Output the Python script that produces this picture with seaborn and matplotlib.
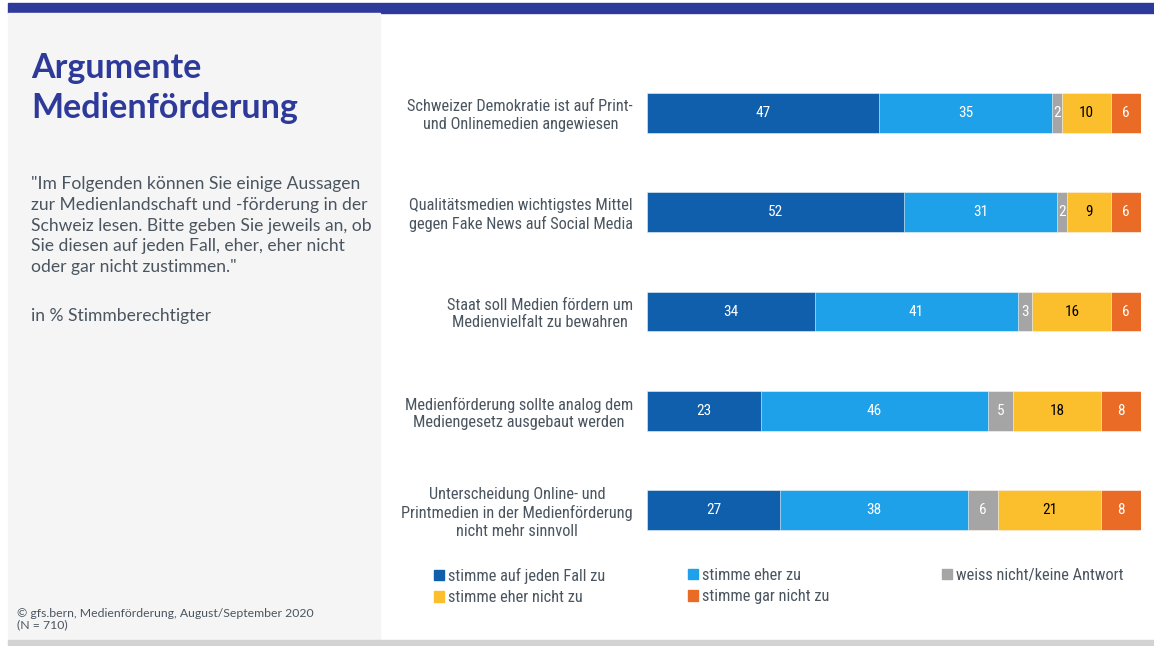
import matplotlib.pyplot as plt
import matplotlib.patches as mpatches
import numpy as np
import pandas as pd
import seaborn as sns

# %% data
statements = ['Schweizer Demokratie ist auf Print-\nund Onlinemedien angewiesen',
              'Qualitätsmedien wichtigstes Mittel\ngegen Fake News auf Social Media',
              'Staat soll Medien fördern um\nMedienvielfalt zu bewahren',
              'Medienförderung sollte analog dem\nMediengesetz ausgebaut werden',
              'Unterscheidung Online- und\nPrintmedien in der Medienförderung\nnicht mehr sinnvoll']
answers = ['stimme auf jeden Fall zu', 'stimme eher zu', 'weiss nicht/keine Antwort',
           'stimme eher nicht zu', 'stimme gar nicht zu']
auf_jeden_fall = [47, 52, 34, 23, 27]
eher_zu = [35, 31, 41, 46, 38]
weiss_nicht = [2, 2, 3, 5, 6]
eher_nicht = [10, 9, 16, 18, 21]
gar_nicht = [6, 6, 6, 8, 8]

cols = {'stimme auf jeden Fall zu': '#0f5fad', 'stimme eher zu': '#1fa1ea',
        'weiss nicht/keine Antwort': '#a5a5a5', 'stimme eher nicht zu': '#fbbe2c',
        'stimme gar nicht zu': '#e96b25'}
txtcols = {'stimme auf jeden Fall zu': 'white', 'stimme eher zu': 'white',
           'weiss nicht/keine Antwort': 'white', 'stimme eher nicht zu': 'black',
           'stimme gar nicht zu': 'white'}

df = pd.DataFrame({'statement': statements,
                   answers[0]: auf_jeden_fall, answers[1]: eher_zu, answers[2]: weiss_nicht,
                   answers[3]: eher_nicht, answers[4]: gar_nicht})
cum = df[answers].cumsum(axis=1)

narrow = ['Liberation Sans Narrow', 'Roboto Condensed', 'Roboto', 'DejaVu Sans']
body = ['Lato', 'DejaVu Sans']
grey = '#4a5560'
navy = '#2e3a99'

sns.set_style('white')
plt.rcParams['font.family'] = body

fig = plt.figure(figsize=(11.54, 6.46), dpi=100)
W, H = 1154, 646

# background decoration: top band, left panel, bottom strip
fig.patches.append(mpatches.Rectangle((8/W, 1-13/H), 1-8/W, 10/H, transform=fig.transFigure,
                                      color=navy, zorder=0))
fig.patches.append(mpatches.Rectangle((8/W, 6/H), 372/W, 1-19/H, transform=fig.transFigure,
                                      color='#f5f5f5', zorder=0))
fig.patches.append(mpatches.Rectangle((8/W, 0), 1-8/W, 6/H, transform=fig.transFigure,
                                      color='#d3d3d3', zorder=0))

ax = fig.add_axes([647/W, 1-560/H, 494/W, 497/H])
ax.patch.set_alpha(0)

# stacked bars: draw cumulative totals from the largest down
for a in answers[::-1]:
    sns.barplot(x=cum[a], y=df['statement'], orient='h', color=cols[a], width=0.4,
                ax=ax, saturation=1, edgecolor='white', linewidth=0.4)

for i in range(len(df)):
    for a in answers:
        v = df.loc[i, a]
        ax.text(cum.loc[i, a]-v/2, i, str(v), ha='center', va='center',
                color=txtcols[a], fontsize=11, family=narrow)

ax.set_xlim(0, 100)
ax.set_ylim(4.5, -0.5)
ax.set_xlabel('')
ax.set_ylabel('')
ax.set_xticks([])
ax.tick_params(axis='y', length=0, pad=10)
ax.set_yticks(range(len(statements)))
ax.set_yticklabels(statements, multialignment='center', fontsize=11.8,
                   color=grey, family=narrow, linespacing=1.2)
sns.despine(ax=ax, left=True, bottom=True)

# legend: three columns placed separately, laid out row-wise
hand = {a: mpatches.Patch(color=cols[a]) for a in answers}
legcols = [[answers[0], answers[3]], [answers[1], answers[4]], [answers[2]]]
for xpos, labs in zip([419, 673, 927], legcols):
    fig.legend([hand[a] for a in labs], labs, loc='upper left',
               bbox_to_anchor=(xpos/W, 1-553/H), ncol=1, frameon=False,
               handlelength=0.6, handleheight=0.6, handletextpad=0.3,
               labelspacing=0.4, prop={'family': narrow, 'size': 11.8},
               labelcolor=grey)

# left panel text
fig.text(31/W, 1-52/H, 'Argumente\nMedienförderung', ha='left', va='top',
         fontsize=24.5, fontweight='bold', color=navy, linespacing=1.3)
fig.text(31/W, 1-176/H, '"Im Folgenden können Sie einige Aussagen\nzur Medienlandschaft und -förderung in der\n'
         'Schweiz lesen. Bitte geben Sie jeweils an, ob\nSie diesen auf jeden Fall, eher, eher nicht\n'
         'oder gar nicht zustimmen."', ha='left', va='top', fontsize=12.6,
         color=grey, linespacing=1.37)
fig.text(31/W, 1-308/H, 'in % Stimmberechtigter', ha='left', va='top', fontsize=12.6, color=grey)
fig.text(17/W, 1-608/H, '© gfs.bern, Medienförderung, August/September 2020\n(N = 710)',
         ha='left', va='top', fontsize=8.8, color=grey, linespacing=1.05)

fig.savefig('out.png', dpi=100)
